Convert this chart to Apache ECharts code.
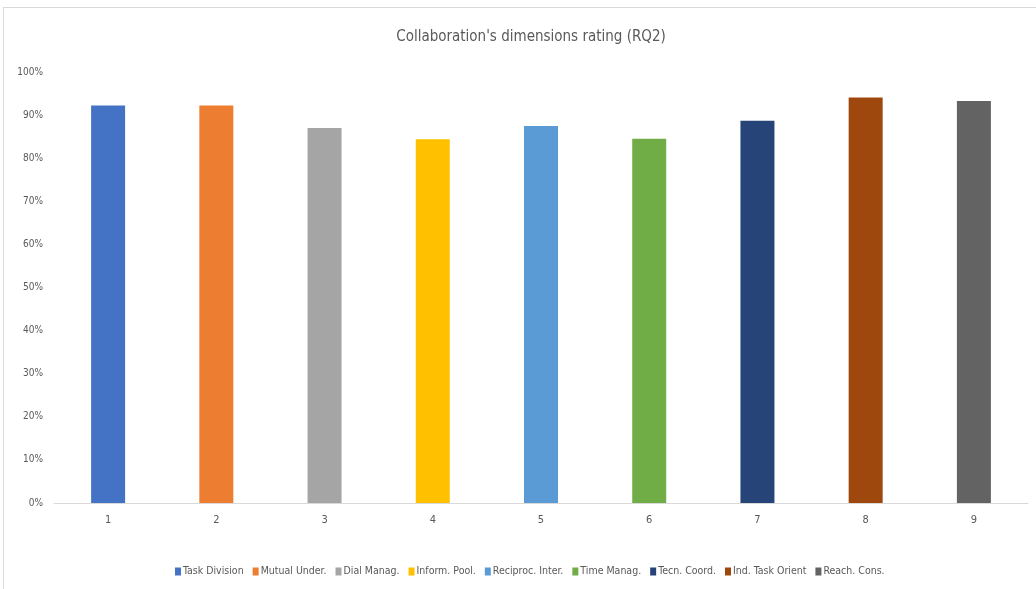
<!DOCTYPE html>
<html>
<head>
<meta charset="utf-8">
<script src="https://cdn.jsdelivr.net/npm/echarts@6/dist/echarts.min.js"></script>
<style>
html,body{margin:0;padding:0;background:#fff;overflow:hidden;}
#chart{position:absolute;left:3px;top:7px;width:1040px;height:590px;border:1px solid #d9d9d9;box-sizing:border-box;}
</style>
</head>
<body>
<div id="chart"></div>
<script>
var categories = ["1","2","3","4","5","6","7","8","9"];
var seriesNames = ["Task Division","Mutual Under.","Dial Manag.","Inform. Pool.","Reciproc. Inter.","Time Manag.","Tecn. Coord.","Ind. Task Orient","Reach. Cons."];
var ratings = [0.922, 0.922, 0.870, 0.844, 0.875, 0.845, 0.887, 0.941, 0.933];
var colors = ["#4472C4","#ED7D31","#A5A5A5","#FFC000","#5B9BD5","#70AD47","#264478","#9E480E","#636363"];

var fontNarrow = '"Liberation Sans Narrow","DejaVu Sans Condensed","Open Sans",sans-serif';

// one series per dimension, stacked so each bar sits centred on its category
function buildSeries(){
    var arr = [];
    for (var i = 0; i < seriesNames.length; i++) {
        var data = [];
        for (var j = 0; j < categories.length; j++) {
            data.push(j == i ? ratings[i] : null);
        }
        arr.push({
            name: seriesNames[i],
            type: "bar",
            stack: "dims",
            barWidth: 34,
            data: data,
            itemStyle: {color: colors[i]}
        });
    }
    return arr;
}

var option = {
    color: colors,
    animation: false,
    title: {
        text: "Collaboration's dimensions rating (RQ2)",
        left: 522,
        textAlign: "center",
        top: 17,
        textStyle: {color: "#595959", fontSize: 15, fontWeight: "normal", fontFamily: fontNarrow}
    },
    legend: {
        data: seriesNames,
        bottom: 14,
        left: 166,
        itemWidth: 6,
        itemHeight: 8,
        itemGap: 9,
        icon: "rect",
        textStyle: {color: "#595959", fontSize: 10.5, fontFamily: fontNarrow, padding: [0,0,0,-3]}
    },
    grid: {left: 50, right: 14, top: 64, bottom: 93},
    xAxis: {
        type: "category",
        data: categories,
        axisLine: {lineStyle: {color: "#d9d9d9", width: 1}},
        axisTick: {show: false},
        axisLabel: {color: "#595959", fontSize: 11, fontFamily: fontNarrow, margin: 12}
    },
    yAxis: {
        type: "value",
        min: 0,
        max: 1,
        interval: 0.1,
        axisLine: {show: false},
        axisTick: {show: false},
        splitLine: {show: false},
        axisLabel: {
            color: "#595959", fontSize: 10, fontFamily: fontNarrow, margin: 11,
            formatter: function(v){ return Math.round(v*100) + "%"; }
        }
    },
    series: buildSeries()
};
var chart = echarts.init(document.getElementById("chart"));
chart.setOption(option);
</script>
</body>
</html>
